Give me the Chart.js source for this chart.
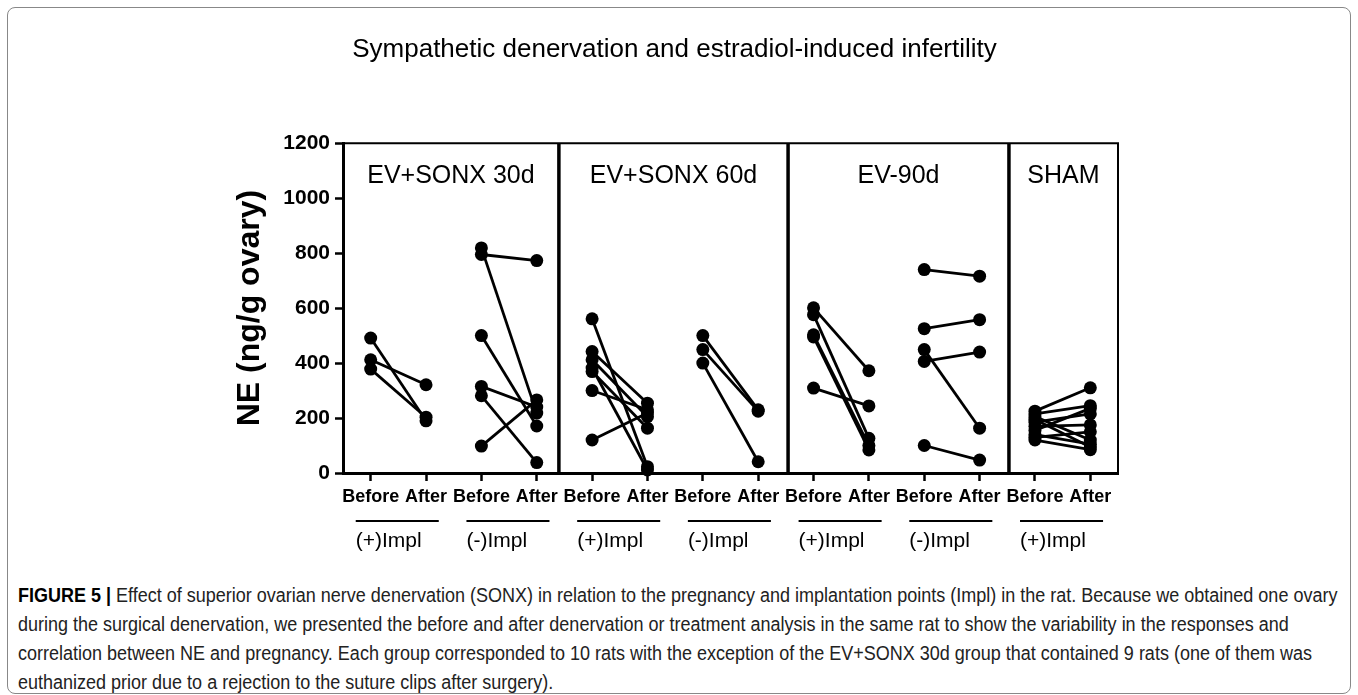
<!DOCTYPE html>
<html>
<head>
<meta charset="utf-8">
<script src="https://cdn.jsdelivr.net/npm/chart.js@4.4.1/dist/chart.umd.min.js"></script>
<style>
  body { margin: 0; background: #fff; }
  #frame {
    position: absolute; left: 7px; top: 7px; width: 1342px; height: 685px;
    border: 1px solid #888; border-radius: 8px;
  }
  #chart { position: absolute; left: 0; top: 0; }
  #caption {
    position: absolute; left: 18px; top: 581px; width: 1500px;
    font-family: "Liberation Sans", Arial, sans-serif;
    font-size: 20px; line-height: 29px; color: #222; white-space: nowrap;
    transform: scaleX(0.9); transform-origin: 0 0;
  }
  #caption b { color: #000; }
</style>
</head>
<body>
<div id="frame"></div>
<canvas id="chart" width="1358" height="560"></canvas>
<div id="caption">
<b>FIGURE 5 |</b> Effect of superior ovarian nerve denervation (SONX) in relation to the pregnancy and implantation points (Impl) in the rat. Because we obtained one ovary<br>
during the surgical denervation, we presented the before and after denervation or treatment analysis in the same rat to show the variability in the responses and<br>
correlation between NE and pregnancy. Each group corresponded to 10 rats with the exception of the EV+SONX 30d group that contained 9 rats (one of them was<br>
euthanized prior due to a rejection to the suture clips after surgery).
</div>
<script>
// tick labels and groups
var xTickLabels = ['Before', 'After', 'Before', 'After', 'Before', 'After', 'Before', 'After',
                   'Before', 'After', 'Before', 'After', 'Before', 'After'];
var groupLabels = ['(+)Impl', '(-)Impl', '(+)Impl', '(-)Impl', '(+)Impl', '(-)Impl', '(+)Impl'];
var panelTitles = ['EV+SONX 30d', 'EV+SONX 60d', 'EV-90d', 'SHAM'];
var yTicks = [0, 200, 400, 600, 800, 1000, 1200];

// NE values, one entry per rat (before -> after)
var sonx30PlusBefore  = [491, 412, 378];
var sonx30PlusAfter   = [190, 321, 203];
var sonx30MinusBefore = [819, 795, 500, 315, 281, 98];
var sonx30MinusAfter  = [218, 773, 171, 240, 38, 266];
var sonx60PlusBefore  = [561, 442, 412, 382, 369, 300, 120];
var sonx60PlusAfter   = [23, 254, 205, 11, 163, 230, 218];
var sonx60MinusBefore = [500, 449, 400];
var sonx60MinusAfter  = [230, 225, 41];
var ev90PlusBefore    = [601, 576, 503, 495, 309];
var ev90PlusAfter     = [372, 126, 100, 84, 244];
var ev90MinusBefore   = [740, 525, 449, 406, 100];
var ev90MinusAfter    = [716, 558, 163, 440, 47];
var shamBefore        = [225, 215, 205, 195, 185, 170, 155, 140, 130, 120];
var shamAfter         = [310, 245, 120, 95, 215, 175, 235, 105, 150, 85];

var pairs = [
  [sonx30PlusBefore, sonx30PlusAfter],
  [sonx30MinusBefore, sonx30MinusAfter],
  [sonx60PlusBefore, sonx60PlusAfter],
  [sonx60MinusBefore, sonx60MinusAfter],
  [ev90PlusBefore, ev90PlusAfter],
  [ev90MinusBefore, ev90MinusAfter],
  [shamBefore, shamAfter]
];

// panel dividers, in x-axis units
var panelEdges = [3.4, 7.54, 11.53];

var FONT = "'Liberation Sans', Arial, sans-serif";

var datasets = [];
pairs.forEach(function(p, k) {
  p[0].forEach(function(v, i) {
    datasets.push({
      data: [{x: 2 * k, y: v}, {x: 2 * k + 1, y: p[1][i]}],
      borderColor: '#000',
      borderWidth: 2.8,
      pointRadius: 6.5,
      pointBackgroundColor: '#000',
      pointBorderWidth: 0,
      clip: false
    });
  });
});

var panelPlugin = {
  id: 'panels',
  beforeDatasetsDraw: function(chart) {
    var ctx = chart.ctx, a = chart.chartArea, x = chart.scales.x;
    ctx.save();
    ctx.strokeStyle = '#000';
    ctx.lineWidth = 2;
    ctx.beginPath();
    ctx.moveTo(a.left, a.top);
    ctx.lineTo(a.right, a.top);
    ctx.lineTo(a.right, a.bottom);
    ctx.stroke();
    ctx.lineWidth = 3.5;
    panelEdges.forEach(function(e) {
      var px = x.getPixelForValue(e);
      ctx.beginPath();
      ctx.moveTo(px, a.top);
      ctx.lineTo(px, a.bottom);
      ctx.stroke();
    });
    ctx.restore();
  },
  afterDraw: function(chart) {
    var ctx = chart.ctx, a = chart.chartArea, x = chart.scales.x;
    ctx.save();
    ctx.fillStyle = '#000';
    ctx.font = '25px ' + FONT;
    ctx.textAlign = 'center';
    ctx.textBaseline = 'middle';
    var edges = [-0.5].concat(panelEdges, [13.5]);
    panelTitles.forEach(function(t, i) {
      var cx = x.getPixelForValue((edges[i] + edges[i + 1]) / 2);
      ctx.fillText(t, cx, a.top + 33);
    });
    ctx.strokeStyle = '#000';
    ctx.lineWidth = 2;
    ctx.font = '21px ' + FONT;
    ctx.textAlign = 'left';
    groupLabels.forEach(function(t, k) {
      var x1 = x.getPixelForValue(2 * k - 0.27);
      var x2 = x.getPixelForValue(2 * k + 1.23);
      ctx.beginPath();
      ctx.moveTo(x1, a.bottom + 48);
      ctx.lineTo(x2, a.bottom + 48);
      ctx.stroke();
      ctx.fillText(t, x1, a.bottom + 68);
    });
    ctx.restore();
  }
};

new Chart(document.getElementById('chart'), {
  type: 'line',
  data: { datasets: datasets },
  options: {
    responsive: false,
    animation: false,
    layout: { padding: { left: 231, right: 240, top: 0, bottom: 0 } },
    plugins: {
      legend: { display: false },
      tooltip: { enabled: false },
      title: {
        display: true,
        text: 'Sympathetic denervation and estradiol-induced infertility',
        color: '#000',
        font: { family: FONT, size: 26, weight: 'normal' },
        padding: { top: 34, bottom: 78 }
      }
    },
    scales: {
      x: {
        type: 'linear',
        min: -0.5,
        max: 13.5,
        afterBuildTicks: function(axis) {
          axis.ticks = xTickLabels.map(function(_, i) { return {value: i}; });
        },
        afterFit: function(axis) { axis.height = 87; },
        ticks: {
          color: '#000',
          padding: 5,
          maxRotation: 0,
          autoSkip: false,
          font: { family: FONT, size: 18, weight: 'bold' },
          callback: function(v) { return xTickLabels[v]; }
        },
        grid: { drawOnChartArea: false, tickLength: 8, tickColor: '#000', tickWidth: 2.5 },
        border: { color: '#000', width: 3 }
      },
      y: {
        min: 0,
        max: 1200,
        afterBuildTicks: function(axis) {
          axis.ticks = yTicks.map(function(v) { return {value: v}; });
        },
        afterFit: function(axis) { axis.width = 112; },
        ticks: {
          color: '#000',
          padding: 5,
          font: { family: FONT, size: 21, weight: 'bold' },
          callback: function(v) { return String(v); }
        },
        title: {
          display: true,
          text: 'NE (ng/g ovary)',
          color: '#000',
          padding: { top: 0, bottom: 0 },
          font: { family: FONT, size: 32, weight: 'bold' }
        },
        grid: { drawOnChartArea: false, tickLength: 8, tickColor: '#000', tickWidth: 2.5 },
        border: { color: '#000', width: 3 }
      }
    }
  },
  plugins: [panelPlugin]
});
</script>
</body>
</html>
